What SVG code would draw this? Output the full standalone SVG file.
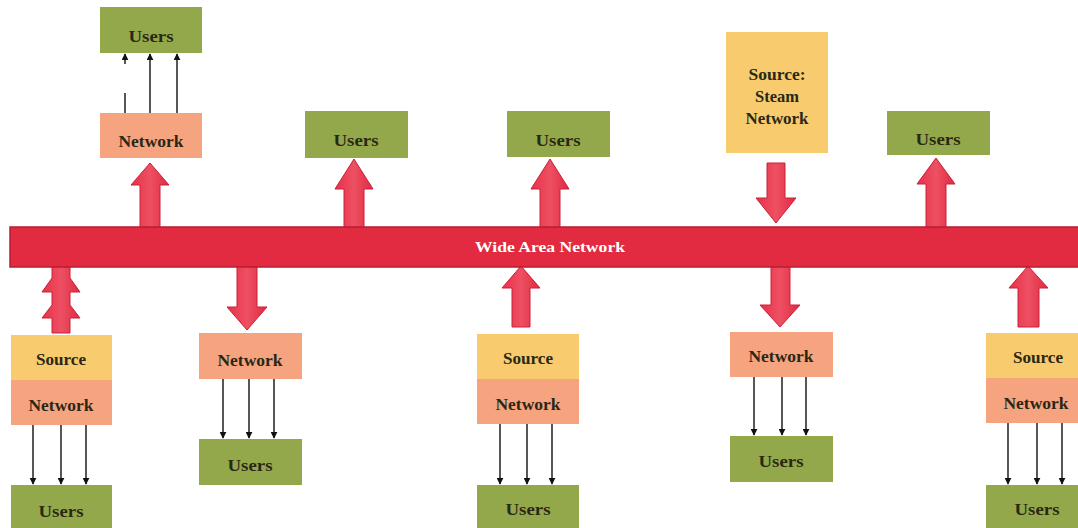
<svg xmlns="http://www.w3.org/2000/svg" width="1078" height="528" viewBox="0 0 1078 528">
<defs>
<marker id="ah" viewBox="0 0 10 10" refX="9" refY="5" markerWidth="7" markerHeight="7" markerUnits="userSpaceOnUse" orient="auto">
<path d="M0,0 L10,5 L0,10 z" fill="#111"/>
</marker>
<linearGradient id="redg" x1="0" y1="0" x2="1" y2="0">
<stop offset="0" stop-color="#e8304a"/>
<stop offset="0.5" stop-color="#ee5063"/>
<stop offset="1" stop-color="#de2a42"/>
</linearGradient>
</defs>
<style>
.users{fill:#93a84b}
.net{fill:#f6a380}
.src{fill:#f8cb6f}
.lbl{font-family:"Liberation Serif","Times New Roman",serif;font-weight:bold;font-size:16px;fill:#2a2814;text-anchor:middle}
.big{fill:url(#redg);stroke:#c8213a;stroke-width:1}
.thin{stroke:#111;stroke-width:1.4;fill:none;marker-end:url(#ah)}
</style>
<rect width="1078" height="528" fill="#ffffff"/>

<g id="connectors">
<g id="big-arrows">
<polygon class="big" points="150,163 169,185 160,185 160,228 140,228 140,185 131,185"/>
<polygon class="big" points="354,159 373,189 364,189 364,228 344,228 344,189 335,189"/>
<polygon class="big" points="550,159 569,189 560,189 560,228 540,228 540,189 531,189"/>
<polygon class="big" points="767,163 785,163 785,198 796,198 776,223 756,198 767,198"/>
<polygon class="big" points="936,158 955,184 946,184 946,228 926,228 926,184 917,184"/>
<polygon class="big" points="52,266 70,266 70,278 80,292 70,292 70,305 80,318 70,318 70,333 52,333 52,318 42,318 52,305 52,292 42,292 52,278"/>
<polygon class="big" points="237,266 257,266 257,307 267,307 247,330 227,307 237,307"/>
<polygon class="big" points="521,266 540,288 530,288 530,327 512,327 512,288 502,288"/>
<polygon class="big" points="771,266 790,266 790,305 800,305 780,327 760,305 771,305"/>
<polygon class="big" points="1028,266 1048,288 1039,288 1039,327 1018,327 1018,288 1009,288"/>
</g>
<g id="thin-arrows">
<path class="thin" d="M125,113 V93 M125,64 V54"/>
<path class="thin" d="M150,113 V54"/>
<path class="thin" d="M177,113 V54" stroke-width="2.2"/>
<path class="thin" d="M33,425 V484"/>
<path class="thin" d="M61,425 V484"/>
<path class="thin" d="M86,425 V484"/>
<path class="thin" d="M223,379 V438"/>
<path class="thin" d="M249,379 V438"/>
<path class="thin" d="M274,379 V438" stroke-width="2"/>
<path class="thin" d="M500,424 V484"/>
<path class="thin" d="M527,424 V484"/>
<path class="thin" d="M552,424 V484"/>
<path class="thin" d="M754,377 V435"/>
<path class="thin" d="M782,377 V435"/>
<path class="thin" d="M806,377 V435"/>
<path class="thin" d="M1008,423 V484"/>
<path class="thin" d="M1037,423 V484"/>
<path class="thin" d="M1062,423 V484"/>
</g>
</g>

<g id="wan">
<rect x="10" y="227" width="1072" height="40" fill="#e22a40" stroke="#b81d33" stroke-width="1.5"/>
<text x="550" y="252" font-family="'Liberation Serif','Times New Roman',serif" font-weight="bold" font-size="14" fill="#ffffff" text-anchor="middle" textLength="150" lengthAdjust="spacingAndGlyphs">Wide Area Network</text>
</g>

<g id="users-top-left"><rect class="users" x="100" y="7" width="102" height="46"/><text class="lbl" x="151" y="42" textLength="45" lengthAdjust="spacingAndGlyphs">Users</text></g>
<g id="network-top-left"><rect class="net" x="100" y="113" width="102" height="45"/><text class="lbl" x="151" y="147" textLength="65" lengthAdjust="spacingAndGlyphs">Network</text></g>
<g id="users-top-2"><rect class="users" x="305" y="111" width="103" height="47"/><text class="lbl" x="356" y="146" textLength="45" lengthAdjust="spacingAndGlyphs">Users</text></g>
<g id="users-top-3"><rect class="users" x="507" y="111" width="103" height="46"/><text class="lbl" x="558" y="146" textLength="45" lengthAdjust="spacingAndGlyphs">Users</text></g>
<g id="source-steam"><rect class="src" x="726" y="32" width="102" height="121"/>
<text class="lbl" x="777" y="80" textLength="57" lengthAdjust="spacingAndGlyphs">Source:</text><text class="lbl" x="777" y="102" textLength="44" lengthAdjust="spacingAndGlyphs">Steam</text><text class="lbl" x="777" y="124" textLength="63" lengthAdjust="spacingAndGlyphs">Network</text></g>
<g id="users-top-5"><rect class="users" x="887" y="111" width="103" height="44"/><text class="lbl" x="938" y="145" textLength="45" lengthAdjust="spacingAndGlyphs">Users</text></g>

<g id="source-1"><rect class="src" x="11" y="335" width="101" height="45"/><text class="lbl" x="61" y="365" textLength="50" lengthAdjust="spacingAndGlyphs">Source</text></g>
<g id="network-1"><rect class="net" x="11" y="380" width="101" height="45"/><text class="lbl" x="61" y="411" textLength="65" lengthAdjust="spacingAndGlyphs">Network</text></g>
<g id="users-1"><rect class="users" x="11" y="485" width="101" height="46"/><text class="lbl" x="61" y="517" textLength="45" lengthAdjust="spacingAndGlyphs">Users</text></g>

<g id="network-2"><rect class="net" x="199" y="333" width="103" height="46"/><text class="lbl" x="250" y="366" textLength="65" lengthAdjust="spacingAndGlyphs">Network</text></g>
<g id="users-2"><rect class="users" x="199" y="439" width="103" height="46"/><text class="lbl" x="250" y="471" textLength="45" lengthAdjust="spacingAndGlyphs">Users</text></g>

<g id="source-3"><rect class="src" x="477" y="334" width="102" height="45"/><text class="lbl" x="528" y="364" textLength="50" lengthAdjust="spacingAndGlyphs">Source</text></g>
<g id="network-3"><rect class="net" x="477" y="379" width="102" height="45"/><text class="lbl" x="528" y="410" textLength="65" lengthAdjust="spacingAndGlyphs">Network</text></g>
<g id="users-3"><rect class="users" x="477" y="485" width="102" height="46"/><text class="lbl" x="528" y="515" textLength="45" lengthAdjust="spacingAndGlyphs">Users</text></g>

<g id="network-4"><rect class="net" x="730" y="332" width="103" height="45"/><text class="lbl" x="781" y="362" textLength="65" lengthAdjust="spacingAndGlyphs">Network</text></g>
<g id="users-4"><rect class="users" x="730" y="436" width="103" height="46"/><text class="lbl" x="781" y="467" textLength="45" lengthAdjust="spacingAndGlyphs">Users</text></g>

<g id="source-5"><rect class="src" x="986" y="333" width="100" height="45"/><text class="lbl" x="1038" y="363" textLength="50" lengthAdjust="spacingAndGlyphs">Source</text></g>
<g id="network-5"><rect class="net" x="986" y="378" width="100" height="45"/><text class="lbl" x="1036" y="409" textLength="65" lengthAdjust="spacingAndGlyphs">Network</text></g>
<g id="users-5"><rect class="users" x="986" y="485" width="100" height="46"/><text class="lbl" x="1037" y="515" textLength="45" lengthAdjust="spacingAndGlyphs">Users</text></g>
</svg>
